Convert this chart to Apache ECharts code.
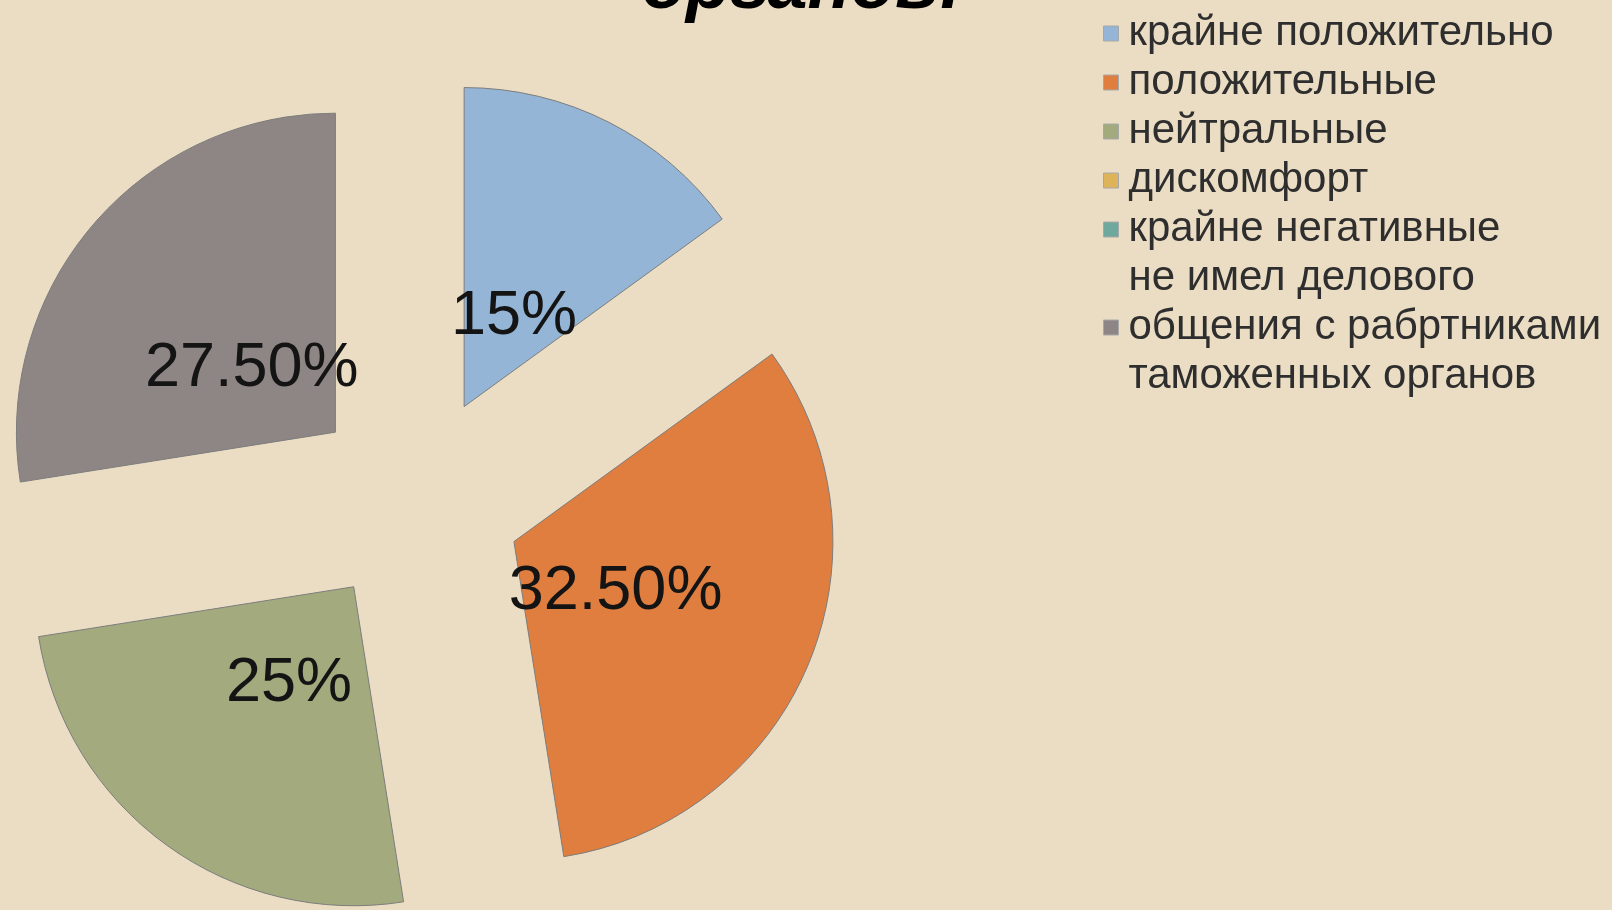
<!DOCTYPE html>
<html>
<head>
<meta charset="utf-8">
<style>
  html, body { margin: 0; padding: 0; background: #EBDDC3; }
  #chart { width: 1612px; height: 910px; }
</style>
<script src="https://cdn.jsdelivr.net/npm/echarts@6/dist/echarts.min.js"></script>
</head>
<body>
<div id="chart"></div>
<script>
var categories = [
  'крайне положительно',
  'положительные',
  'нейтральные',
  'дискомфорт',
  'крайне негативные',
  'не имел делового\nобщения с рабртниками\nтаможенных органов'
];
var values = [15, 32.5, 25, 0, 0, 27.5];
var labels = ['15%', '32.50%', '25%', '0%', '0%', '27.50%'];
var colors = ['#94B5D6', '#DF7E3E', '#A2AA7E', '#DDB45A', '#6FA89C', '#8E8685'];

var chart = echarts.init(document.getElementById('chart'));

var radius = 319;
// labels sit about a third of the way out, not half way
var labelDist = 107;
var total = values.reduce(function (a, b) { return a + b; }, 0);
var cum = 0;
var midAngles = values.map(function (v) {
  var a = (cum + v / 2) / total * 2 * Math.PI;
  cum += v;
  return a;
});

var pieData = categories.map(function (name, i) {
  var item = {
    name: name,
    value: values[i],
    selected: values[i] > 0,
    label: { show: values[i] > 0 }
  };
  if (values[i] === 0) {
    item.itemStyle = { borderWidth: 0 };
  }
  return item;
});

chart.setOption({
  backgroundColor: '#EBDDC3',
  animation: false,
  color: colors,
  title: {
    // only the tail of the slide title is left in the frame
    text: 'органов:',
    left: 637,
    top: -53,
    textStyle: {
      fontFamily: 'Liberation Sans',
      fontSize: 72,
      fontWeight: 'bold',
      fontStyle: 'italic',
      color: '#000'
    }
  },
  legend: {
    orient: 'vertical',
    left: 1103,
    top: 9,
    padding: 0,
    itemWidth: 15,
    itemHeight: 15,
    itemGap: 0,
    icon: 'rect',
    selectedMode: false,
    itemStyle: { borderColor: '#a8a8a8', borderWidth: 1 },
    textStyle: {
      fontFamily: 'Liberation Sans',
      fontSize: 42,
      lineHeight: 49,
      color: '#2e2e2e',
      padding: [0, 0, 0, 5]
    },
    data: categories
  },
  series: [{
    type: 'pie',
    center: [416, 501],
    radius: [0, radius],
    startAngle: 90,
    selectedMode: 'multiple',
    selectedOffset: 106,
    avoidLabelOverlap: false,
    labelLine: { show: false },
    itemStyle: { borderColor: '#7d7d7d', borderWidth: 1 },
    label: {
      position: 'inside',
      fontFamily: 'Liberation Sans',
      fontSize: 63,
      color: '#141414',
      formatter: function (p) { return labels[p.dataIndex]; }
    },
    labelLayout: function (p) {
      var a = midAngles[p.dataIndex];
      var shift = labelDist - radius / 2;
      return { dx: shift * Math.sin(a), dy: -shift * Math.cos(a) + 8, hideOverlap: false };
    },
    emphasis: { disabled: true },
    data: pieData
  }]
});
</script>
</body>
</html>
